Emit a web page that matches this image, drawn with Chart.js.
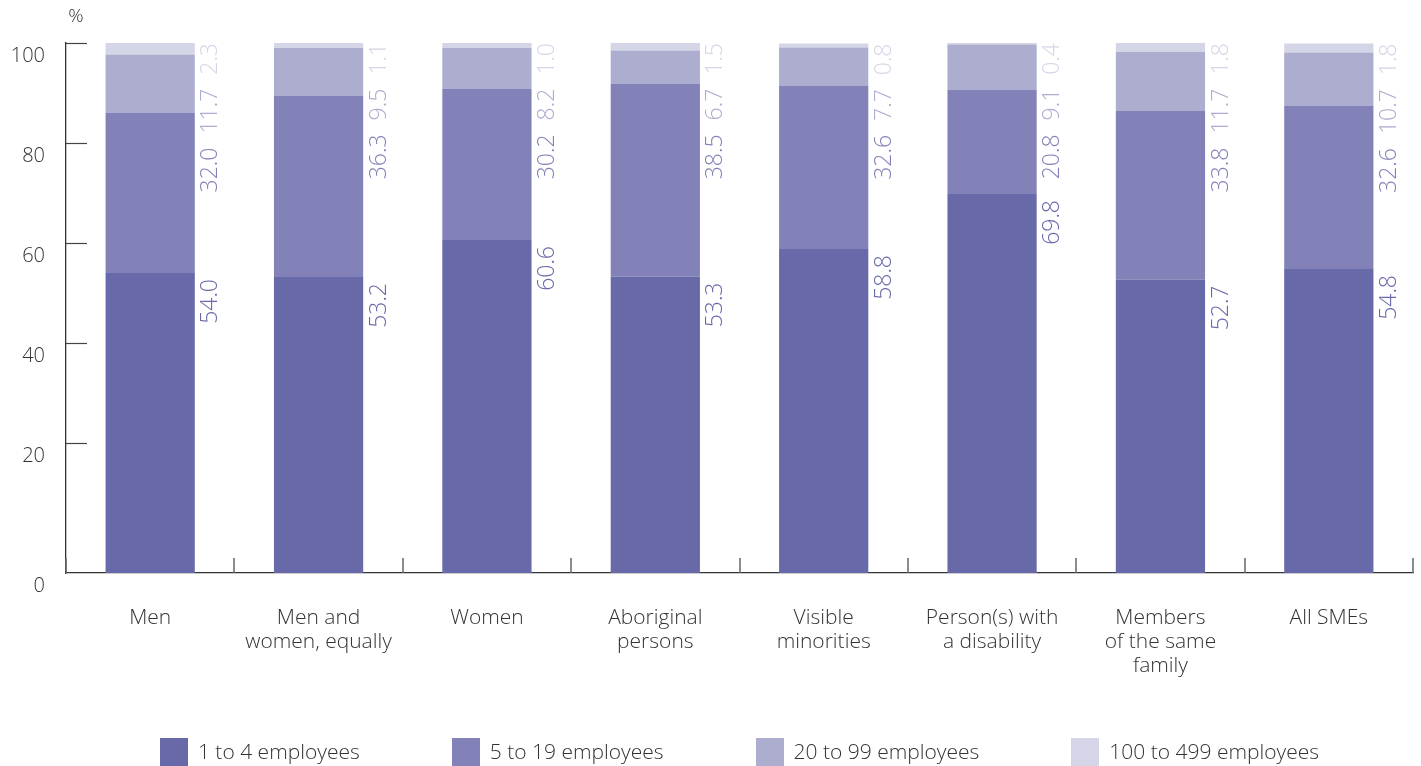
<!DOCTYPE html>
<html><head><meta charset="utf-8">
<script src="https://cdn.jsdelivr.net/npm/chart.js@4.4.0/dist/chart.umd.min.js"></script>
<style>html,body{margin:0;padding:0;background:#fff;}#wrap{width:1421px;height:766px;position:relative;}</style>
</head><body><div id="wrap"><canvas id="c" width="1421" height="766"></canvas></div>
<script>
const categories = [['Men'], ['Men and','women, equally'], ['Women'], ['Aboriginal','persons'], ['Visible','minorities'], ['Person(s) with','a disability'], ['Members','of the same','family'], ['All SMEs']];
const seriesLabels = ['1 to 4 employees','5 to 19 employees','20 to 99 employees','100 to 499 employees'];
const emp1to4 = [54.0,53.2,60.6,53.3,58.8,69.8,52.7,54.8];
const emp5to19 = [32.0,36.3,30.2,38.5,32.6,20.8,33.8,32.6];
const emp20to99 = [11.7,9.5,8.2,6.7,7.7,9.1,11.7,10.7];
const emp100to499 = [2.3,1.1,1.0,1.5,0.8,0.4,1.8,1.8];
const yTickValues = [0,20,40,60,80,100];
const yAxisFloor = -6;
const colors = ['#6869a8','#8282b9','#acadcf','#d5d5e8'];
const FONT = '"Open Sans", "Lato", sans-serif';
const TEXT = '#333333';

const decorPlugin = {
  id: 'decor',
  afterDatasetsDraw(chart) {
    const {ctx, chartArea: ca, scales: {x, y}} = chart;
    ctx.save();
    // inward y ticks
    ctx.strokeStyle = '#444'; ctx.lineWidth = 1.2;
    y.ticks.forEach(t => {
      if (t.value === yAxisFloor) return;
      const py = Math.round(y.getPixelForValue(t.value)) + 0.5;
      ctx.beginPath(); ctx.moveTo(ca.left, py); ctx.lineTo(ca.left + 21, py); ctx.stroke();
    });
    // category boundary ticks
    ctx.strokeStyle = '#666'; ctx.lineWidth = 1.5;
    for (let i = 0; i <= categories.length; i++) {
      const px = Math.round(x.getPixelForValue(i - 0.5));
      ctx.beginPath(); ctx.moveTo(px, ca.bottom); ctx.lineTo(px, ca.bottom - 15); ctx.stroke();
    }
    // value labels
    ctx.font = '300 23px ' + FONT;
    const nd = chart.data.datasets.length;
    categories.forEach((c, i) => {
      let prevBottom = -Infinity;
      for (let d = nd - 1; d >= 0; d--) {
        const bar = chart.getDatasetMeta(d).data[i];
        const txt = chart.data.datasets[d].data[i].toFixed(1);
        const w = ctx.measureText(txt).width;
        const off = d === nd - 1 ? 0 : 6;
        const top = Math.max(Math.max(bar.y, ca.top) + off, prevBottom + 14);
        const lx = bar.x + bar.width / 2 + 16;
        ctx.save();
        ctx.translate(lx, top);
        ctx.rotate(-Math.PI / 2);
        ctx.textAlign = 'right'; ctx.textBaseline = 'middle';
        ctx.fillStyle = colors[d];
        ctx.fillText(txt, 0, 0);
        ctx.restore();
        prevBottom = top + w;
      }
    });
    ctx.restore();
  },
  afterDraw(chart) {
    const {ctx, chartArea: ca} = chart;
    ctx.save();
    // % unit
    ctx.font = '300 19px ' + FONT;
    ctx.fillStyle = TEXT; ctx.textAlign = 'center'; ctx.textBaseline = 'middle';
    ctx.fillText('%', ca.left + 10, ca.top - 26);
    // legend
    ctx.font = '300 21px ' + FONT;
    const items = chart.data.datasets.map(ds => ({text: ds.label, color: ds.backgroundColor, w: 38 + ctx.measureText(ds.label).width}));
    const gap = 92;
    const total = items.reduce((s, it) => s + it.w, 0) + gap * (items.length - 1);
    let cx = (ca.left + ca.right) / 2 - total / 2;
    const cy = chart.height - 14;
    items.forEach(it => {
      ctx.fillStyle = it.color; ctx.fillRect(Math.round(cx), cy - 14, 28, 28);
      ctx.fillStyle = TEXT; ctx.textAlign = 'left'; ctx.textBaseline = 'middle';
      ctx.fillText(it.text, cx + 38, cy + 1);
      cx += it.w + gap;
    });
    ctx.restore();
  }
};

const seriesData = [emp1to4, emp5to19, emp20to99, emp100to499];
new Chart(document.getElementById('c'), {
  type: 'bar',
  data: {
    labels: categories,
    datasets: seriesData.map((arr, i) => {
      const ds = {label: seriesLabels[i], data: arr, backgroundColor: colors[i], borderWidth: 0,
        categoryPercentage: 1, barPercentage: 0.53};
      if (i === 0) ds.base = yAxisFloor;
      return ds;
    })
  },
  options: {
    responsive: false, animation: false, devicePixelRatio: 1,
    layout: {padding: {top: 43, right: 8, bottom: 88, left: 0}},
    plugins: {legend: {display: false}, tooltip: {enabled: false}},
    scales: {
      x: {
        stacked: true,
        grid: {display: false, drawTicks: false},
        border: {display: true, color: '#333', width: 1.3},
        ticks: {color: TEXT, padding: 33, maxRotation: 0, autoSkip: false,
          font: {family: FONT, size: 21, weight: '300', lineHeight: 1.143}},
        afterFit: s => { s.height = 105; }
      },
      y: {
        stacked: true, min: yAxisFloor, max: 100,
        afterBuildTicks: s => { s.ticks = yTickValues.map(v => ({value: v === 0 ? yAxisFloor : v})); },
        grid: {display: false, drawTicks: false},
        border: {display: true, color: '#333', width: 1.3},
        ticks: {color: TEXT, padding: 21, labelOffset: 13,
          font: {family: FONT, size: 20, weight: '300'},
          callback: v => v === yAxisFloor ? '0' : String(v)},
        afterFit: s => { s.width = 66; }
      }
    }
  },
  plugins: [decorPlugin]
});
</script></body></html>
